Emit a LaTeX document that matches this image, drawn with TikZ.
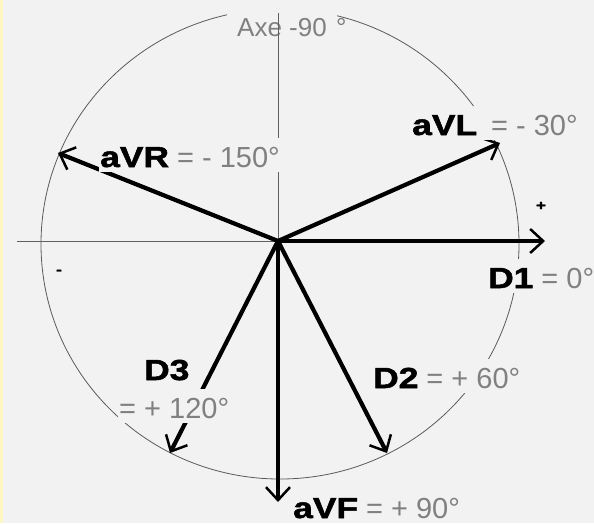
\documentclass[tikz,border=0pt]{standalone}
\usepackage{fontspec}
\setmainfont{Liberation Sans}
\newfontfamily\heavyfont{Liberation Sans}[BoldFeatures={FakeBold=1.8,FakeStretch=1.22}]
\usetikzlibrary{arrows.meta}
\definecolor{bg}{HTML}{F2F2F2}
\definecolor{strip}{HTML}{FFF6C2}
\definecolor{txtgray}{HTML}{808080}
\definecolor{circgray}{HTML}{5A5A5A}
\definecolor{axgray}{HTML}{606060}
\newcommand\hv[1]{{\color{black}\heavyfont\bfseries #1}}
\begin{document}
\begin{tikzpicture}[x=1pt,y=-1pt,
  lab/.style={fill=bg, font=\fontsize{29}{32}\selectfont, text height=28pt, text depth=4pt, inner sep=1pt, anchor=base west, text=txtgray},
  vec/.style={line width=4.2pt, draw=black, -{Straight Barb[length=13pt,width=24pt,line width=2.5pt]}},
  axisline/.style={line width=1pt, draw=axgray},
  ring/.style={line width=0.8pt, draw=circgray},
  signmark/.style={font=\fontsize{14}{14}\heavyfont\bfseries, text=black, inner sep=0pt}]
\fill[strip] (0,0) rectangle (3,523);
\fill[bg] (3,0) rectangle (594,523);
\useasboundingbox (0,0) rectangle (594,523);
\coordinate (O) at (278,241);
\draw[ring] (280,244) ellipse[x radius=239pt, y radius=235pt];
\node[lab, inner xsep=10pt, text height=29pt, font=\fontsize{26}{30}\selectfont] (axe) at (227,36) {Axe -90};
\node[lab, fill=none, font=\fontsize{26}{30}\selectfont] (deg) at (335,36) {°};
\coordinate (L) at (17,241);
\coordinate (T) at (278,13);
\draw[axisline] (L) -- (O);
\draw[axisline] (T) -- (O);
\coordinate (tVR) at (58,153);
\coordinate (tVL) at (500,143);
\coordinate (tD1) at (545,241);
\coordinate (tD2) at (387,453);
\coordinate (tD3) at (170,453);
\coordinate (tVF) at (278,502);
\draw[vec] (O) -- (tVR);
\draw[vec] (O) -- (tVL);
\draw[vec] (O) -- (tD1);
\draw[vec] (O) -- (tD2);
\draw[vec] (O) -- (tD3);
\draw[vec] (O) -- (tVF);
\node[lab] (lVR) at (99,167) {\hv{aVR} = - 150°};
\node[lab] (lVL) at (411,135) {\hv{aVL}\hspace{6pt} = - 30°};
\node[lab] (lD1) at (487,288) {\hv{D1} = 0°};
\node[lab] (lD2) at (372,388) {\hv{D2} = + 60°};
\node[lab] (lD3) at (143,380) {\hv{D3}};
\node[lab] (lD3b) at (118,418) {= + 120°};
\node[lab] (lVF) at (292,518) {\hv{aVF} = + 90°};
\node[signmark] (plus) at (541,206) {+};
\node[signmark] (minus) at (59,272) {-};
\end{tikzpicture}
\end{document}
